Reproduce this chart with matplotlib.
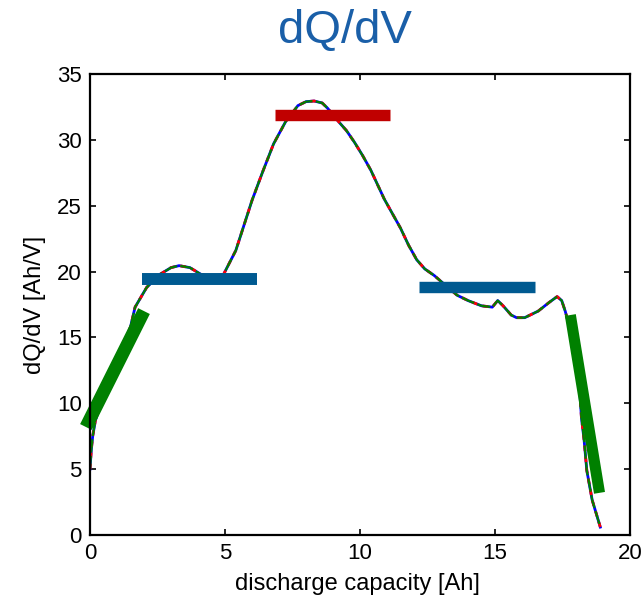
import matplotlib.pyplot as plt

# 곡선 데이터
cap = [0.0, 0.05, 0.1, 0.2, 0.5, 1.0, 1.5, 1.67, 2.1, 2.6, 3.0, 3.3, 3.7, 4.1,
       4.5, 4.95, 5.4, 6.0, 6.4, 6.8, 7.25, 7.7, 8.0, 8.3, 8.6, 8.8, 9.2, 9.5,
       9.8, 10.1, 10.4, 10.65, 10.9, 11.2, 11.5, 11.8, 12.1, 12.4, 12.75, 13.2,
       13.6, 14.0, 14.5, 14.9, 15.1, 15.3, 15.6, 15.8, 16.1, 16.6, 17.0, 17.3,
       17.47, 17.6, 17.8, 17.95, 18.12, 18.2, 18.3, 18.4, 18.6, 18.9]
dqdv = [5.0, 6.5, 7.5, 8.7, 10.5, 13.2, 15.8, 17.3, 18.8, 19.8, 20.3, 20.45,
        20.3, 19.8, 19.6, 19.8, 21.6, 25.4, 27.6, 29.7, 31.4, 32.6, 32.9, 32.95,
        32.8, 32.4, 31.4, 30.7, 29.8, 28.8, 27.7, 26.6, 25.5, 24.4, 23.3, 22.0,
        20.9, 20.2, 19.7, 18.9, 18.2, 17.8, 17.4, 17.3, 17.8, 17.4, 16.7, 16.5,
        16.5, 17.0, 17.65, 18.1, 17.8, 17.0, 15.5, 14.0, 11.5, 8.95, 7.2, 4.9,
        2.65, 0.6]

# 구간 표시 막대 (시작, 끝)
green_left = ([-0.15, 2.0], [8.2, 17.0])
blue_first = ([1.93, 6.17], [19.4, 19.4])
red_peak = ([6.84, 11.1], [31.9, 31.9])
blue_second = ([12.2, 16.47], [18.8, 18.8])
green_right = ([17.79, 18.87], [16.7, 3.2])

plt.rcParams['font.family'] = ['Liberation Sans', 'DejaVu Sans']

fig = plt.figure(figsize=(6.43, 6.02), dpi=100)
ax = fig.add_axes([90 / 643, 67 / 602, 540 / 643, 461 / 602])

# 겹쳐 그린 곡선들
ax.plot(cap, dqdv, color='blue', linewidth=2.0)
ax.plot(cap, dqdv, color='red', linewidth=2.0, linestyle=(0, (2, 2)))
ax.plot(cap, dqdv, color='green', linewidth=1.6, linestyle=(0, (6, 1.5)))

# 굵은 막대 (축 밖으로 나가도 잘리지 않게)
bar_kw = dict(solid_capstyle='butt', clip_on=False)
ax.plot(*green_left, color='#008000', linewidth=9.4, **bar_kw)
ax.plot(*blue_first, color='#005a91', linewidth=8.6, **bar_kw)
ax.plot(*red_peak, color='#c00000', linewidth=8.2, **bar_kw)
ax.plot(*blue_second, color='#005a91', linewidth=8.2, **bar_kw)
ax.plot(*green_right, color='#008000', linewidth=8.0, **bar_kw)

ax.set_xlim(0, 20)
ax.set_ylim(0, 35)
ax.set_xticks([0, 5, 10, 15, 20])
ax.set_yticks([0, 5, 10, 15, 20, 25, 30, 35])
ax.tick_params(direction='in', top=True, right=True, length=4, width=1.2,
               labelsize=16, pad=6)
for sp in ax.spines.values():
    sp.set_linewidth(1.6)

ax.set_ylabel('dQ/dV [Ah/V]', fontsize=17, labelpad=8)
fig.text(357 / 643, 1 - 590 / 602, 'discharge capacity [Ah]', fontsize=17,
         ha='center', va='baseline')
fig.text(345 / 643, 1 - 43 / 602, 'dQ/dV', fontsize=34, color='#1a5fa8',
         ha='center', va='baseline')

fig.savefig('out.png', dpi=100)
